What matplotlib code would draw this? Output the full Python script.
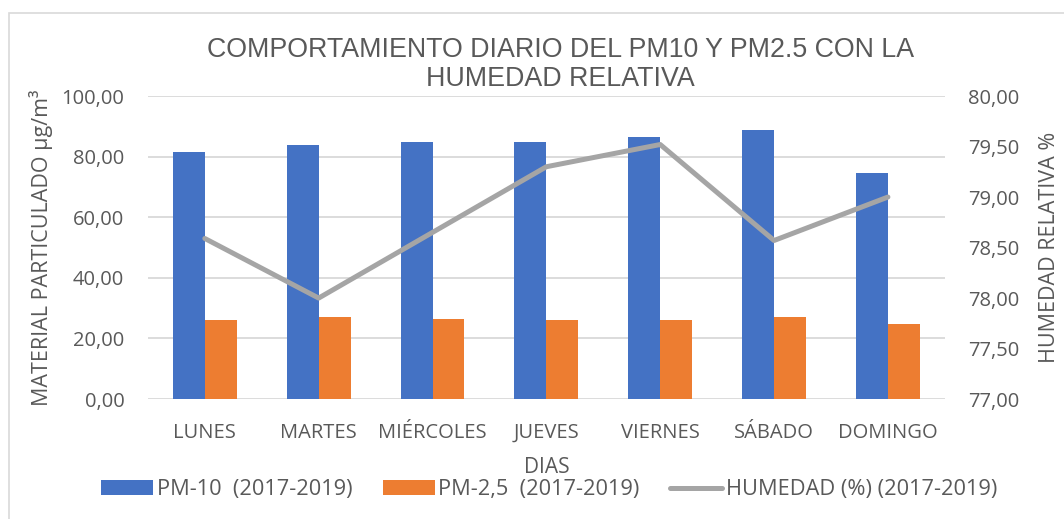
import numpy as np
import matplotlib
matplotlib.use("Agg")
import matplotlib.pyplot as plt
from matplotlib.patches import Rectangle
from matplotlib.ticker import FuncFormatter

dias = ["LUNES", "MARTES", "MIÉRCOLES", "JUEVES", "VIERNES", "SÁBADO", "DOMINGO"]
pm10 = [81.4, 84.0, 84.8, 84.7, 86.5, 88.8, 74.6]
pm25 = [26.0, 27.1, 26.4, 26.2, 26.2, 27.0, 24.7]
humedad = [78.59, 78.0, 78.65, 79.30, 79.52, 78.57, 79.0]

azul = "#4472c4"
naranja = "#ed7d31"
gris = "#a5a5a5"
texto = "#595959"

plt.rcParams["font.family"] = ["Open Sans", "DejaVu Sans"]

fig = plt.figure(figsize=(10.64, 5.19), dpi=100)
# marco gris del grafico
fig.patches.append(Rectangle((9 / 1064, -0.05), 1.2, 1.05 - 13 / 519,
                             transform=fig.transFigure, fill=False,
                             edgecolor="#d9d9d9", linewidth=1.2))

ax = fig.add_axes([0.139, 0.231, 0.749, 0.584])
x = np.arange(len(dias))
w = 0.28
b1 = ax.bar(x - w / 2, pm10, w, color=azul, label="PM-10  (2017-2019)", zorder=2)
b2 = ax.bar(x + w / 2, pm25, w, color=naranja, label="PM-2,5  (2017-2019)", zorder=2)

fmt = FuncFormatter(lambda v, p: f"{v:.2f}".replace(".", ","))
ax.set_xlim(-0.5, len(dias) - 0.5)
ax.set_ylim(0, 100)
ax.set_yticks(np.arange(0, 101, 20))
ax.yaxis.set_major_formatter(fmt)
ax.set_xticks(x)
ax.set_xticklabels(dias)
ax.grid(axis="y", color="#d9d9d9", linewidth=1.3, zorder=0)
ax.set_axisbelow(True)
for s in ax.spines.values():
    s.set_visible(False)
ax.tick_params(length=0, labelsize=14.5, colors=texto)
ax.tick_params(axis="y", pad=17)
ax.tick_params(axis="x", pad=17)
ax.set_ylabel("MATERIAL PARTICULADO µg/m³", fontsize=15.5, color=texto, labelpad=6)
ax.set_xlabel("DIAS", fontsize=15, color=texto, labelpad=10)

ax2 = ax.twinx()
l1, = ax2.plot(x, humedad, color=gris, linewidth=3.6, label="HUMEDAD (%) (2017-2019)",
               solid_capstyle="round", zorder=3)
ax2.set_ylim(77, 80)
ax2.set_yticks(np.arange(77, 80.01, 0.5))
ax2.yaxis.set_major_formatter(fmt)
for s in ax2.spines.values():
    s.set_visible(False)
ax2.tick_params(length=0, labelsize=14.5, colors=texto, pad=17)
ax2.set_ylabel("HUMEDAD RELATIVA %", fontsize=15.5, color=texto, labelpad=14)

fig.text(0.527, 0.875, "COMPORTAMIENTO DIARIO DEL PM10 Y PM2.5 CON LA\nHUMEDAD RELATIVA",
         ha="center", va="center", fontsize=19.3, color=texto,
         family=["Liberation Sans", "DejaVu Sans"], linespacing=1.15)

leg = fig.legend(handles=[b1, b2, l1], loc="center", bbox_to_anchor=(0.516, 0.056),
                 ncol=3, frameon=False, fontsize=15.7, handlelength=2.4,
                 handleheight=0.65, handletextpad=0.15, columnspacing=1.4)
for t in leg.get_texts():
    t.set_color(texto)

fig.savefig("out.png", dpi=100)
